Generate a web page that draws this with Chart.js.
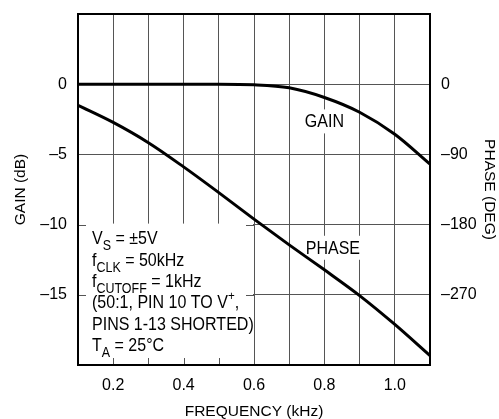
<!DOCTYPE html>
<html>
<head>
<meta charset="utf-8">
<script src="https://cdn.jsdelivr.net/npm/chart.js@4.4.1/dist/chart.umd.min.js"></script>
<style>
  html, body { margin: 0; padding: 0; background: #fff; }
  #wrap { width: 499px; height: 419px; position: relative; }
</style>
</head>
<body>
<div id="wrap"><canvas id="gainPhase"></canvas></div>
<script>
// datos
const freqKHz = [0.1, 0.2, 0.3, 0.4, 0.5, 0.6, 0.7, 0.8, 0.9, 1.0, 1.1];
const gainDb = [0, 0, 0, 0, 0, -0.04, -0.26, -0.95, -2.0, -3.57, -5.7];
const phaseDeg = [-27, -49, -75, -106, -139, -173, -206, -238, -271, -308, -348];

const xTickLabels = ['0.2', '0.4', '0.6', '0.8', '1.0'];
const gainTicks = [0, -5, -10, -15];
const phaseTicks = [0, -90, -180, -270];

const FONT = "'Liberation Sans', Arial, sans-serif";
const NARROW = 0.89; // la fuente original es condensada
const dash = (v) => (v < 0 ? '\u2013' + Math.abs(v) : String(v));

// caja de condiciones (abajo a la izquierda)
const noteLines = [
  [['V', 'n'], ['S', 'sub'], [' = \u00b15V', 'n']],
  [['f', 'n'], ['CLK', 'sub'], [' = 50kHz', 'n']],
  [['f', 'n'], ['CUTOFF', 'sub'], [' = 1kHz', 'n']],
  [['(50:1, PIN 10 TO V', 'n'], ['+', 'sup'], [',', 'n']],
  [['PINS 1-13 SHORTED)', 'n']],
  [['T', 'n'], ['A', 'sub'], [' = 25\u00b0C', 'n']]
];

function drawRich(ctx, x, y, parts) {
  ctx.save();
  ctx.translate(x, y);
  ctx.scale(NARROW, 1);
  let px = 0;
  parts.forEach(([txt, kind]) => {
    let size = 18, dy = 0;
    if (kind === 'sub') { size = 14; dy = 6; }
    if (kind === 'sup') { size = 13; dy = -8; }
    ctx.font = size + 'px ' + FONT;
    ctx.fillText(txt, px, dy);
    px += ctx.measureText(txt).width;
  });
  ctx.restore();
}

function curveLabel(ctx, text, cx, cy) {
  ctx.font = '18px ' + FONT;
  const w = ctx.measureText(text).width * NARROW;
  ctx.fillStyle = '#fff';
  ctx.fillRect(cx - w / 2 - 3, cy - 12, w + 6, 24);
  ctx.save();
  ctx.translate(cx, cy + 1);
  ctx.scale(NARROW, 1);
  ctx.fillStyle = '#000';
  ctx.textAlign = 'center';
  ctx.textBaseline = 'middle';
  ctx.fillText(text, 0, 0);
  ctx.restore();
}

const extras = {
  id: 'extras',
  beforeDatasetsDraw(chart) {
    const { ctx, scales } = chart;
    const xs = scales.x, ys = scales.y;
    const l = xs.getPixelForValue(0.1), r = xs.getPixelForValue(0.6);
    const t = ys.getPixelForValue(-10), b = ys.getPixelForValue(-20);
    ctx.save();
    ctx.fillStyle = '#fff';
    ctx.fillRect(l, t - 1, r - l - 1, b - t + 1);
    // marcas cortas dentro de la caja
    ctx.strokeStyle = '#555';
    ctx.lineWidth = 1;
    ctx.beginPath();
    [0.2, 0.3, 0.4, 0.5].forEach((f) => {
      const px = Math.round(xs.getPixelForValue(f)) + 0.5;
      ctx.moveTo(px, b); ctx.lineTo(px, b - 7);
    });
    [-10, -15].forEach((g) => {
      const py = Math.round(ys.getPixelForValue(g)) + 0.5;
      ctx.moveTo(l, py); ctx.lineTo(l + 8, py);
      ctx.moveTo(r, py); ctx.lineTo(r - 8, py);
    });
    ctx.stroke();

    ctx.fillStyle = '#000';
    ctx.textAlign = 'left';
    ctx.textBaseline = 'alphabetic';
    noteLines.forEach((parts, i) => drawRich(ctx, l + 14, t + 19.5 + i * 21.4, parts));

    curveLabel(ctx, 'GAIN', xs.getPixelForValue(0.8), ys.getPixelForValue(-2.65));
    curveLabel(ctx, 'PHASE', xs.getPixelForValue(0.824), ys.getPixelForValue(-11.65));
    ctx.restore();
  },
  afterDatasetsDraw(chart) {
    const { ctx, chartArea: a } = chart;
    ctx.save();
    ctx.strokeStyle = '#000';
    ctx.lineWidth = 2;
    ctx.strokeRect(a.left, a.top, a.right - a.left, a.bottom - a.top);
    ctx.restore();
  }
};

const gridStyle = { color: '#555', lineWidth: 1, drawTicks: false };
const tickFont = { family: FONT, size: 16 };
const titleFont = { family: FONT, size: 15.5, lineHeight: 1 };

const noPadV = (w) => (s) => { s.width = w; s.paddingTop = 0; s.paddingBottom = 0; };

new Chart(document.getElementById('gainPhase'), {
  type: 'line',
  data: {
    datasets: [
      {
        label: 'GAIN',
        data: freqKHz.map((f, i) => ({ x: f, y: gainDb[i] })),
        yAxisID: 'y',
        borderColor: '#000',
        borderWidth: 3,
        pointRadius: 0,
        cubicInterpolationMode: 'monotone'
      },
      {
        label: 'PHASE',
        data: freqKHz.map((f, i) => ({ x: f, y: phaseDeg[i] })),
        yAxisID: 'y2',
        borderColor: '#000',
        borderWidth: 3,
        pointRadius: 0,
        cubicInterpolationMode: 'monotone'
      }
    ]
  },
  options: {
    responsive: true,
    maintainAspectRatio: false,
    animation: false,
    layout: { padding: { top: 14, left: 0, right: 0, bottom: 0 } },
    plugins: { legend: { display: false }, tooltip: { enabled: false } },
    scales: {
      x: {
        type: 'linear',
        min: 0.1,
        max: 1.1,
        afterFit: (s) => { s.height = 54; s.paddingLeft = 0; s.paddingRight = 0; },
        grid: gridStyle,
        border: { display: false },
        ticks: {
          stepSize: 0.1,
          autoSkip: false,
          maxRotation: 0,
          padding: 11,
          color: '#000',
          font: tickFont,
          callback: (v) => {
            const lab = (Math.round(v * 10) / 10).toFixed(1);
            return xTickLabels.includes(lab) ? lab : '';
          }
        },
        title: { display: true, text: 'FREQUENCY (kHz)', color: '#000', font: titleFont, padding: { top: 0, bottom: 0 } }
      },
      y: {
        position: 'left',
        min: -20,
        max: 5,
        afterFit: noPadV(78),
        grid: gridStyle,
        border: { display: false },
        ticks: {
          stepSize: 5,
          padding: 11,
          color: '#000',
          font: tickFont,
          callback: (v) => (gainTicks.includes(v) ? dash(v) : '')
        },
        title: { display: true, text: 'GAIN (dB)', color: '#000', font: titleFont, padding: { top: 13, bottom: 0 } }
      },
      y2: {
        position: 'right',
        min: -360,
        max: 90,
        afterFit: noPadV(69),
        grid: { drawOnChartArea: false, drawTicks: false },
        border: { display: false },
        ticks: {
          stepSize: 90,
          padding: 11,
          color: '#000',
          font: tickFont,
          callback: (v) => (phaseTicks.includes(v) ? dash(v) : '')
        },
        title: { display: true, text: 'PHASE (DEG)', color: '#000', font: titleFont, padding: { top: 2, bottom: 0 } }
      }
    }
  },
  plugins: [extras]
});
</script>
</body>
</html>
